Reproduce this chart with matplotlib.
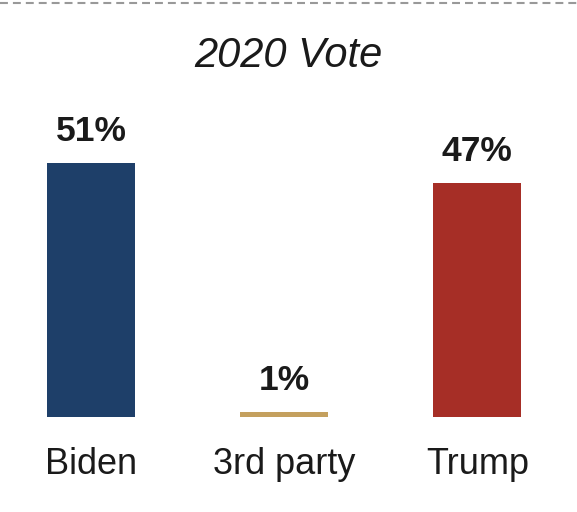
import matplotlib.pyplot as plt
from matplotlib.lines import Line2D

plt.rcParams['font.family'] = ['Liberation Sans', 'DejaVu Sans']

categories = ['Biden', '3rd party', 'Trump']
values = [51, 1, 47]
labels = ['51%', '1%', '47%']
colors = ['#1e3f69', '#c4a05e', '#a62e26']

fig = plt.figure(figsize=(5.77, 5.12), dpi=100)
ax = fig.add_axes([0.0069, 0.1855, 0.971, 0.5836])

x = range(len(categories))
ax.bar(x, values, width=0.456, color=colors)
ax.set_xlim(-0.45, 2.45)
ax.set_ylim(0, 60)
ax.axis('off')

for i, v in enumerate(values):
    ax.annotate(labels[i], (i, v), xytext=(0, 23), textcoords='offset points',
                ha='center', va='center', fontsize=25.5, fontweight='bold',
                color='#1a1a1a')
    ax.annotate(categories[i], (i, 0), xytext=(0, -34), textcoords='offset points',
                ha='center', va='center', fontsize=26, color='#1a1a1a')

fig.text(0.5, 0.890, '2020 Vote', ha='center', va='center', fontsize=30,
         style='italic', color='#1a1a1a')

# dashed rule at the top
line = Line2D([0, 1], [1 - 3 / 512, 1 - 3 / 512], transform=fig.transFigure,
              color='#999999', linewidth=1.5, dashes=(3.8, 2.4))
fig.add_artist(line)

fig.savefig('out.png', dpi=100)
